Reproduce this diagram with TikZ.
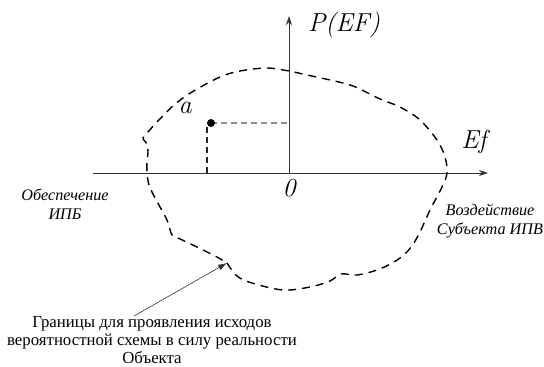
\documentclass[tikz,border=0pt]{standalone}
\usepackage{fontspec}
\newfontfamily\cyr{Liberation Serif}
\usetikzlibrary{arrows.meta}
\begin{document}
\begin{tikzpicture}[x=1pt,y=-1pt,
  axis/.style={draw=black!80,line width=0.8pt,-{Stealth[length=9pt,width=6pt]}},
  boundary/.style={draw=black,line width=1.4pt,dash pattern=on 8pt off 6pt},
  guidegray/.style={draw=black!45,line width=1.1pt,dash pattern=on 6pt off 4pt},
  guideblack/.style={draw=black!85,line width=1.1pt,dash pattern=on 6pt off 4pt},
  pointer/.style={draw=black!80,line width=0.6pt,-{Latex[length=9pt,width=6pt]}},
  mathlbl/.style={inner sep=0pt,font=\itshape\fontsize{26}{30}\selectfont},
  sidelbl/.style={inner sep=0pt,align=center,font=\cyr\itshape\fontsize{16.2}{18.5}\selectfont},
  notelbl/.style={inner sep=0pt,align=center,font=\cyr\fontsize{16.8}{18.2}\selectfont}]
\useasboundingbox (0,0) rectangle (544,367);
% axes
\coordinate (xl) at (93,173);
\coordinate (xr) at (488,173);
\coordinate (yb) at (289,173);
\coordinate (yt) at (289,16);
\draw[axis] (xl) -- (xr);
\draw[axis] (yb) -- (yt);
% boundary curve
\coordinate (cusp) at (227,263);
\draw[boundary] plot[smooth,tension=0.55] coordinates {
 (227,263) (237,276) (252,283) (283,290) (310,287) (330,281) (341,274) (357,275)
 (377,270) (394,262) (407,252) (418,236) (430,210) (442,187) (447,173) (445,157)
 (437,140) (420,120) (400,107) (380,99) (353,86) (330,80) (307,75) (289,71)
 (267,68) (240,71) (220,77) (192,92) (174,105) (157,122) (148,132) (143,138)
 (147,144) (148,152) (147,162) (147,173) (149,185) (153,194) (160,207) (167,220)
 (172,235) (178,238) (197,247) (217,257) (227,263)};
% point a
\coordinate (dot) at (211,123);
\coordinate (dotx) at (289,123);
\coordinate (vt) at (207,127);
\coordinate (vb) at (207,173);
\draw[guidegray] (dot) -- (dotx);
\draw[guideblack] (vt) -- (vb);
\fill (dot) circle (4pt);
% labels
\node[mathlbl] (lp) at (344,25) {P(EF)};
\node[mathlbl] (lef) at (474,142) {Ef};
\node[mathlbl] (lzero) at (289,188) {0};
\node[mathlbl] (la) at (185,108) {a};
\node[sidelbl] (lobesp) at (65,204) {Обеспечение\\ИПБ};
\node[sidelbl] (lvozd) at (490,221) {Воздействие\\Субъекта ИПВ};
\node[notelbl] (lnote) at (152,340) {Границы для проявления исходов\\вероятностной схемы в силу реальности\\Объекта};
% pointer
\coordinate (pstart) at (134,316);
\draw[pointer] (pstart) -- (cusp);
\end{tikzpicture}
\end{document}
